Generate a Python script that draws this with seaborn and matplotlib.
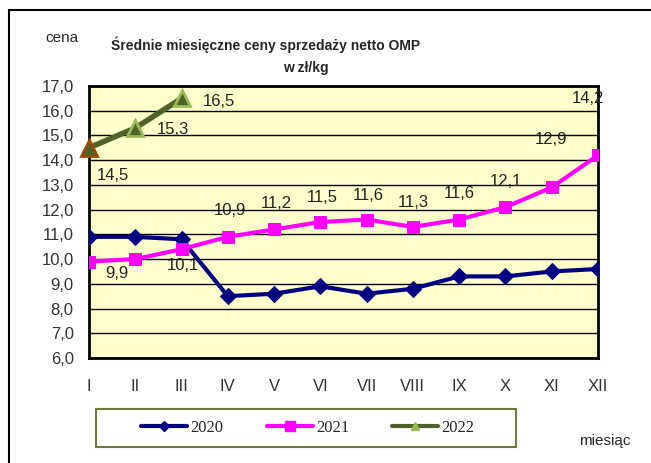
import matplotlib
matplotlib.use("Agg")
import matplotlib.pyplot as plt
import seaborn as sns
import pandas as pd
from matplotlib.lines import Line2D
from matplotlib.patches import Rectangle

# data
months = ["I", "II", "III", "IV", "V", "VI", "VII", "VIII", "IX", "X", "XI", "XII"]
prices_2020 = [10.9, 10.9, 10.8, 8.5, 8.6, 8.9, 8.6, 8.8, 9.3, 9.3, 9.5, 9.6]
prices_2021 = [9.9, 10.0, 10.4, 10.9, 11.2, 11.5, 11.6, 11.3, 11.6, 12.1, 12.9, 14.2]
prices_2022 = [14.5, 15.3, 16.5]
labels_2021 = ["9,9", None, "10,1", "10,9", "11,2", "11,5", "11,6", "11,3", "11,6", "12,1", "12,9", "14,2"]
labels_2022 = ["14,5", "15,3", "16,5"]

rows = []
for year, vals in [("2020", prices_2020), ("2021", prices_2021), ("2022", prices_2022)]:
    for i, v in enumerate(vals):
        rows.append({"month": i, "price": v, "year": year})
df = pd.DataFrame(rows)

sns.set_style("white")
plt.rcParams["font.family"] = ["Liberation Sans", "DejaVu Sans"]

colors = {"2020": "#000080", "2021": "#FF00FF", "2022": "#4F6228"}

fig = plt.figure(figsize=(6.51, 4.63), dpi=100)
ax = fig.add_axes([89 / 651, 1 - 358 / 463, (598 - 89) / 651, (358 - 86) / 463])
ax.set_facecolor("#FFFFCC")

# 2020
sns.lineplot(data=df[df.year == "2020"], x="month", y="price", ax=ax, color=colors["2020"],
             lw=3, marker="D", markersize=8, markeredgecolor=colors["2020"], zorder=3)
# 2021
sns.lineplot(data=df[df.year == "2021"], x="month", y="price", ax=ax, color=colors["2021"],
             lw=3, marker="s", markersize=8, markeredgecolor=colors["2021"], zorder=4)
# 2022
sns.lineplot(data=df[df.year == "2022"], x="month", y="price", ax=ax, color=colors["2022"],
             lw=4, marker="^", markersize=12, markerfacecolor=colors["2022"],
             markeredgecolor="#9BBB59", markeredgewidth=2, zorder=5)
# first 2022 point has a brown outline
ax.plot([0], prices_2022[:1], marker="^", markersize=12, color=colors["2022"],
        markeredgecolor="#984807", markeredgewidth=2, zorder=6, clip_on=False)

# data labels (2021, 2022)
offs_2021 = [(0.6, -0.48), None, (0.02, -0.64), (0.05, 1.05), (0.04, 1.04), (0.05, 1.0),
             (0.03, 0.98), (0.0, 1.0), (0.0, 1.04), (0.0, 1.04), (-0.02, 1.92), (-0.22, 2.3)]
for i, (lab, off) in enumerate(zip(labels_2021, offs_2021)):
    if lab is None:
        continue
    ax.text(i + off[0], prices_2021[i] + off[1], lab, ha="center", va="center",
            fontsize=12, color="#222222", zorder=7, clip_on=False)
offs_2022 = [(0.52, -1.11), (0.82, -0.06), (0.81, -0.14)]
for i, (lab, off) in enumerate(zip(labels_2022, offs_2022)):
    ax.text(i + off[0], prices_2022[i] + off[1], lab, ha="center", va="center",
            fontsize=12, color="#222222", zorder=7)

ax.set_xlim(0, 11)
ax.set_ylim(6, 17)
ax.set_xticks(range(12))
ax.set_xticklabels(months, fontsize=12, color="#333333")
ax.set_yticks(range(6, 18))
ax.set_yticklabels([f"{v},0" for v in range(6, 18)], fontsize=12, color="#333333")
ax.tick_params(axis="both", direction="out", length=5, width=1, color="black", pad=6)
ax.tick_params(axis="x", pad=10)
ax.yaxis.grid(True, color="black", lw=1)
ax.set_axisbelow(True)
ax.set_xlabel("")
ax.set_ylabel("")
for s in ax.spines.values():
    s.set_visible(True)
    s.set_color("black")
    s.set_linewidth(2)

# titles and axis captions
fig.text(266 / 651, 1 - 45 / 463, "Średnie miesięczne ceny sprzedaży netto OMP",
         ha="center", va="center", fontsize=10, fontweight="bold")
fig.text(306 / 651, 1 - 68 / 463, "w zł/kg", ha="center", va="center",
         fontsize=10, fontweight="bold")
fig.text(62 / 651, 1 - 38 / 463, "cena", ha="center", va="center", fontsize=11)
fig.text(605 / 651, 1 - 441 / 463, "miesiąc", ha="center", va="center", fontsize=11)

# legend (frame drawn separately so its size matches the original box)
handles = [
    Line2D([], [], color=colors["2020"], lw=3, marker="D", markersize=5),
    Line2D([], [], color=colors["2021"], lw=3, marker="s", markersize=7),
    Line2D([], [], color=colors["2022"], lw=3, marker="^", markersize=6,
           markerfacecolor="#9BBB59", markeredgecolor="#9BBB59"),
]
fig.legend(handles, ["2020", "2021", "2022"], loc="center",
           bbox_to_anchor=(308 / 651, 1 - 428 / 463),
           ncol=3, frameon=False, handlelength=2.75, handletextpad=0.2,
           columnspacing=2.6, borderaxespad=0,
           prop={"family": "Liberation Serif", "size": 12})
fig.patches.append(Rectangle((96 / 651, 1 - 447 / 463), (516 - 96) / 651, (447 - 409) / 463,
                             transform=fig.transFigure, fill=False,
                             edgecolor="#6B7B3A", lw=1.5))

# outer chart border (left and top edges visible)
fig.patches.append(Rectangle((9 / 651, -0.1), 1.2, 1 - 10 / 463 + 0.1, transform=fig.transFigure,
                             fill=False, edgecolor="black", lw=1.5))

fig.savefig("out.png", dpi=100)
